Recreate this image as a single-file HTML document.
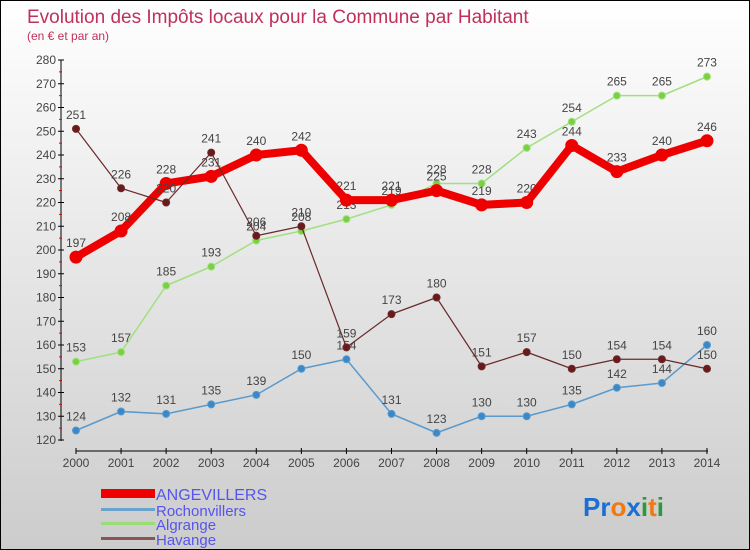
<!DOCTYPE html>
<html><head><meta charset="utf-8"><style>
body{margin:0}
#c{width:748px;height:548px;border:1px solid #000;background:linear-gradient(#fff,#ccc);position:relative;overflow:hidden;font-family:"Liberation Sans",sans-serif}
text{font-family:"Liberation Sans",sans-serif}
</style></head><body>
<div id="c">
<svg id="s" width="748" height="548">
<text x="26" y="22" font-size="19" fill="#c0305a">Evolution des Impôts locaux pour la Commune par Habitant</text>
<text x="26" y="39" font-size="12" fill="#c0305a">(en € et par an)</text>
<g id="g"></g>
<g>
<rect x="100" y="488" width="54" height="9" fill="#e00"/>
<text x="155" y="499" font-size="16" fill="#5555ee">ANGEVILLERS</text>
<rect x="100" y="507" width="54" height="3" fill="#6aa3cc"/>
<text x="155" y="515" font-size="15" fill="#5555ee">Rochonvillers</text>
<rect x="100" y="521" width="54" height="3" fill="#99dd77"/>
<text x="155" y="529" font-size="15" fill="#5555ee">Algrange</text>
<rect x="100" y="536" width="54" height="3" fill="#8a5555"/>
<text x="155" y="544" font-size="15" fill="#5555ee">Havange</text>
</g>
<text x="582" y="515" font-size="26" font-weight="bold"><tspan fill="#1a6fd0">Pr</tspan><tspan fill="#f07a10">o</tspan><tspan fill="#1a6fd0">x</tspan><tspan fill="#2a9a3a">i</tspan><tspan fill="#f07a10">t</tspan><tspan fill="#2a9a3a">i</tspan></text>
</svg>
</div>
<script>
const years=[2000,2001,2002,2003,2004,2005,2006,2007,2008,2009,2010,2011,2012,2013,2014];
const yTicks=[120,130,140,150,160,170,180,190,200,210,220,230,240,250,260,270,280];
const angevillers=[197,208,228,231,240,242,221,221,225,219,220,244,233,240,246];
const rochonvillers=[124,132,131,135,139,150,154,131,123,130,130,135,142,144,160];
const algrange=[153,157,185,193,204,208,213,219,228,228,243,254,265,265,273];
const havange=[251,226,220,241,206,210,159,173,180,151,157,150,154,154,150];
const NS="http://www.w3.org/2000/svg";
const g=document.getElementById('g');
const xs=i=>75+i*45.07;
const ys=v=>439-(v-120)*2.375;
function mk(t,a,p){const e=document.createElementNS(NS,t);for(const k in a)e.setAttribute(k,a[k]);(p||g).appendChild(e);return e;}
let ax=mk('line',{x1:60,y1:59,x2:60,y2:440,stroke:'#000'});


let bx=mk('line',{x1:75,y1:450,x2:707,y2:450,stroke:'#000'});


yTicks.forEach(v=>{
 mk('line',{x1:57,x2:63,y1:ys(v),y2:ys(v),stroke:'#000'});
 if(v<280)mk('line',{x1:58,x2:61,y1:ys(v+5),y2:ys(v+5),stroke:'#e00'});
 const t=mk('text',{x:55,y:ys(v)+4,'font-size':12,fill:'#444','text-anchor':'end'});t.textContent=v;
 
 
});
years.forEach((y,i)=>{
 mk('line',{x1:xs(i),x2:xs(i),y1:447,y2:453,stroke:'#000'});
 const t=mk('text',{x:xs(i),y:466,'font-size':12,fill:'#444','text-anchor':'middle'});t.textContent=y;
 
 
});
function series(name,data,color,w,r,dot){
 const pts=data.map((v,i)=>xs(i)+','+ys(v)).join(' ');
 const l=mk('polyline',{points:pts,fill:'none',stroke:color,'stroke-width':w,'stroke-linejoin':'round'});
 
 
 data.forEach((v,i)=>{
  const c=mk('circle',{cx:xs(i),cy:ys(v),r:r,fill:dot,stroke:color,'stroke-width':1});
  
  
  const t=mk('text',{x:xs(i),y:ys(v)-10,'font-size':12,fill:'#444','text-anchor':'middle'});t.textContent=v;
  
  
 });
}
series('rochonvillers',rochonvillers,'#5a9acc',1.5,3.5,'#3a88c8');
series('algrange',algrange,'#a0e080',1.5,3.5,'#7ad040');
series('angevillers',angevillers,'#ee0000',8,6,'#ee0000');
series('havange',havange,'#6a2a2a',1.2,3.5,'#6a1a1a');
</script>
</body></html>
